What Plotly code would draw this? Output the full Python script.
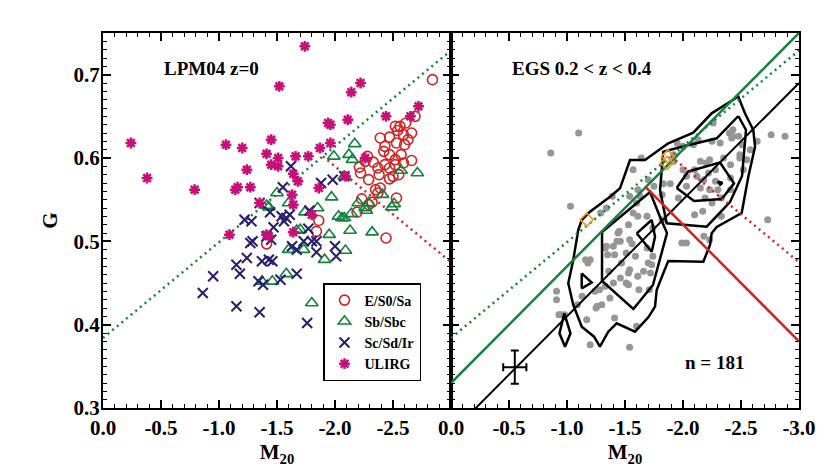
import plotly.graph_objects as go

FONT = "Liberation Serif"

# ---------------- Left panel (LPM04 z=0) ----------------
E_M20 = [-2.84, -2.69, -2.61, -2.52, -2.56, -2.54, -2.66, -2.59, -2.47, -2.39, -2.63, -2.53, -2.60, -2.43,
         -2.42, -2.47, -2.28, -2.26, -2.57, -2.52, -2.66, -2.59, -2.21, -2.33, -2.43, -2.52, -2.37, -2.47,
         -2.22, -2.38, -2.55, -2.29, -2.50, -2.47, -2.39, -2.35, -2.37, -2.23, -2.32, -2.29, -2.53, -2.19,
         -2.44, -1.86, -1.84, -1.41]
E_G = [0.694, 0.650, 0.642, 0.638, 0.638, 0.633, 0.630, 0.628, 0.625, 0.624, 0.622, 0.618, 0.616, 0.614,
       0.608, 0.604, 0.602, 0.596, 0.604, 0.598, 0.597, 0.594, 0.589, 0.595, 0.592, 0.592, 0.588, 0.588,
       0.582, 0.580, 0.580, 0.574, 0.578, 0.575, 0.564, 0.562, 0.558, 0.551, 0.547, 0.544, 0.552, 0.535,
       0.504, 0.525, 0.512, 0.497]

SB_M20 = [-2.17, -1.99, -2.12, -2.15, -2.08, -1.97, -2.71, -2.57, -2.41, -2.51, -2.49, -2.20, -2.27, -2.03,
          -2.06, -2.08, -2.14, -2.13, -2.32, -1.95, -2.09, -1.91, -1.74, -1.85, -1.67, -1.73, -1.50, -1.60,
          -1.41, -2.26, -2.29, -1.43, -1.37, -1.46, -1.58, -1.60, -1.70, -1.80]
SB_G = [0.617, 0.602, 0.604, 0.598, 0.578, 0.553, 0.582, 0.585, 0.556, 0.545, 0.541, 0.546, 0.537, 0.530,
        0.528, 0.528, 0.533, 0.513, 0.511, 0.508, 0.489, 0.478, 0.535, 0.540, 0.513, 0.490, 0.558, 0.546,
        0.543, 0.540, 0.546, 0.541, 0.452, 0.452, 0.461, 0.490, 0.514, 0.426]

SC_M20 = [-0.86, -0.95, -1.15, -1.18, -1.24, -1.15, -1.35, -1.29, -1.27, -1.22, -1.28, -1.35, -1.44, -1.41,
          -1.45, -1.47, -1.37, -1.43, -1.46, -1.34, -1.38, -1.53, -1.54, -1.58, -1.61, -1.56, -1.63, -1.67,
          -1.67, -1.73, -1.77, -1.80, -1.76, -1.78, -1.84, -1.84, -2.00, -2.01, -1.62, -1.55, -1.88, -1.98,
          -2.08]
SC_G = [0.438, 0.458, 0.472, 0.461, 0.480, 0.422, 0.415, 0.500, 0.498, 0.526, 0.524, 0.546, 0.535, 0.506,
        0.502, 0.517, 0.476, 0.478, 0.476, 0.452, 0.448, 0.454, 0.530, 0.528, 0.532, 0.524, 0.494, 0.490,
        0.461, 0.500, 0.515, 0.500, 0.402, 0.537, 0.500, 0.487, 0.494, 0.482, 0.590, 0.565, 0.570, 0.574,
        0.578]

UL_M20 = [-1.74, -1.52, -0.24, -0.38, -0.79, -1.06, -1.20, -1.24, -1.14, -1.16, -1.27, -1.41, -1.45, -1.51,
          -1.45, -1.51, -1.66, -1.77, -1.64, -1.68, -1.63, -1.86, -1.87, -1.94, -1.96, -1.96, -2.14, -2.22,
          -2.11, -2.44, -2.65, -2.72, -2.09, -2.26, -1.64, -1.35, -1.09, -1.64, -1.41, -1.80, -1.43]
UL_G = [0.734, 0.686, 0.618, 0.576, 0.562, 0.616, 0.612, 0.586, 0.562, 0.565, 0.565, 0.605, 0.622, 0.600,
        0.592, 0.590, 0.602, 0.602, 0.581, 0.572, 0.556, 0.564, 0.612, 0.642, 0.640, 0.618, 0.679, 0.690,
        0.646, 0.650, 0.650, 0.662, 0.578, 0.600, 0.544, 0.546, 0.508, 0.511, 0.508, 0.532, 0.506]

# ---------------- Right panel (EGS 0.2 < z < 0.4) ----------------
EGS_M20 = [-1.10, -0.86, -1.03, -2.76, -2.88, -2.73, -2.40, -2.43, -2.42, -2.48, -2.51, -2.58, -2.64, -2.25,
           -2.32, -2.23, -2.49, -2.49, -2.55, -2.35, -2.15, -2.20, -2.41, -2.28, -2.00, -2.09, -2.13, -1.92,
           -2.00, -2.03, -2.10, -2.12, -2.18, -2.22, -2.03, -2.15, -2.23, -2.28, -2.30, -2.41, -2.25, -2.33,
           -2.19, -2.10, -2.17, -1.96, -1.89, -1.83, -1.82, -1.75, -1.64, -1.57, -1.70, -1.95, -1.92, -1.39,
           -1.61, -1.63, -1.54, -1.34, -1.29, -1.57, -1.61, -1.69, -1.82, -1.74, -1.53, -1.45, -1.43, -1.34,
           -1.99, -2.03, -2.18, -2.23, -2.41, -2.52, -2.33, -1.44, -1.33, -1.40, -1.46, -1.35, -1.41, -1.54,
           -1.56, -1.69, -1.74, -1.70, -1.73, -1.51, -1.59, -1.47, -1.54, -1.53, -1.36, -1.46, -1.51, -1.53,
           -1.61, -1.66, -1.72, -1.62, -1.71, -1.40, -1.33, -1.37, -1.30, -1.25, -1.26, -1.41, -1.17, -1.24,
           -1.28, -1.16, -1.20, -1.18, -1.13, -1.09, -0.91, -0.91, -0.93, -0.95, -0.98, -1.60, -1.20, -1.54,
           -2.26, -2.43, -1.60]
EGS_G = [0.630, 0.606, 0.542, 0.628, 0.626, 0.526, 0.630, 0.626, 0.624, 0.626, 0.616, 0.610, 0.620, 0.620,
         0.618, 0.598, 0.604, 0.600, 0.598, 0.600, 0.596, 0.594, 0.592, 0.586, 0.614, 0.616, 0.622, 0.596,
         0.586, 0.578, 0.586, 0.578, 0.574, 0.582, 0.566, 0.564, 0.562, 0.572, 0.562, 0.576, 0.546, 0.552,
         0.552, 0.532, 0.536, 0.552, 0.569, 0.569, 0.556, 0.566, 0.600, 0.586, 0.574, 0.618, 0.604, 0.554,
         0.562, 0.554, 0.554, 0.540, 0.534, 0.534, 0.530, 0.530, 0.526, 0.516, 0.520, 0.512, 0.500, 0.494,
         0.498, 0.498, 0.506, 0.502, 0.562, 0.586, 0.530, 0.510, 0.492, 0.494, 0.500, 0.484, 0.484, 0.502,
         0.497, 0.492, 0.482, 0.474, 0.472, 0.486, 0.482, 0.474, 0.466, 0.462, 0.464, 0.456, 0.450, 0.448,
         0.458, 0.464, 0.462, 0.442, 0.442, 0.450, 0.446, 0.432, 0.424, 0.420, 0.422, 0.408, 0.406, 0.440,
         0.442, 0.478, 0.478, 0.474, 0.434, 0.424, 0.440, 0.430, 0.412, 0.412, 0.412, 0.398, 0.376, 0.373,
         0.642, 0.634, 0.546]

ORANGE_M20 = [-1.87, -1.86, -1.17]
ORANGE_G = [0.602, 0.594, 0.526]

# density contours (M20, G vertices)
CONTOURS = [
    ([-1.127, -1.198, -1.371, -1.457, -1.543, -1.672, -1.873, -2.089, -2.247, -2.477, -2.534, -2.606, -2.621,
      -2.563, -2.506, -2.291, -2.247, -2.233, -2.175, -1.873, -1.830, -1.773, -1.759, -1.701, -1.586, -1.428,
      -1.356, -1.284, -1.233, -1.127, -1.054, -1.011, -1.054, -1.097, -1.127],
     [0.5256, 0.5356, 0.5536, 0.5636, 0.5976, 0.5976, 0.6176, 0.6304, 0.6536, 0.6738, 0.6536, 0.6336, 0.6136,
      0.5776, 0.534, 0.5172, 0.5096, 0.4956, 0.4756, 0.4764, 0.4616, 0.4416, 0.4216, 0.4088, 0.3916, 0.4016,
      0.3916, 0.3736, 0.3856, 0.3976, 0.4236, 0.4496, 0.4776, 0.5136, 0.5256]),
    ([-2.477, -2.543, -2.509, -2.405, -2.204, -1.859, -1.802, -1.830, -1.989, -2.175, -2.291, -2.477],
     [0.6504, 0.6336, 0.5784, 0.5472, 0.5176, 0.5216, 0.5616, 0.6076, 0.6136, 0.6196, 0.6236, 0.6504]),
    ([-1.302, -1.302, -1.572, -1.741, -1.862, -1.802, -1.716, -1.302],
     [0.5112, 0.4524, 0.4188, 0.4476, 0.5100, 0.5292, 0.5592, 0.5112]),
    ([-1.946, -2.043, -2.319, -2.440, -2.334, -2.095, -1.946],
     [0.564, 0.5838, 0.5946, 0.5696, 0.5508, 0.5484, 0.564]),
    ([-1.601, -1.730, -1.759, -1.730, -1.601],
     [0.5096, 0.5256, 0.5056, 0.4876, 0.5096]),
    ([-1.127, -1.213, -1.127, -1.127],
     [0.4616, 0.4506, 0.4436, 0.4616]),
    ([-0.977, -1.030, -0.983, -0.935, -0.977],
     [0.4136, 0.3896, 0.3736, 0.3896, 0.4136]),
    ([-2.30, -2.34, -2.32, -2.30],
     [0.5720, 0.5700, 0.5680, 0.5720]),
]

ERR_M20 = [-0.55]
ERR_G = [0.349]
ERR_DM20 = [0.10]
ERR_DG = [0.02]

# classification lines (slope, intercept): G = a*M20 + b
LPM04_LINE = (-0.115, 0.384)
LPM04_ES0 = (0.115, 0.82)
L08_MERGER = (-0.14, 0.33)
L08_ES0 = (0.14, 0.80)
EGS_FIT = (-0.14, 0.27)

XT_LEFT = [0.0, -0.5, -1.0, -1.5, -2.0, -2.5]
XT_LEFT_TXT = ["0.0", "-0.5", "-1.0", "-1.5", "-2.0", "-2.5"]
XT_RIGHT = [0.0, -0.5, -1.0, -1.5, -2.0, -2.5, -3.0]
XT_RIGHT_TXT = ["0.0", "-0.5", "-1.0", "-1.5", "-2.0", "-2.5", "-3.0"]
YT = [0.3, 0.4, 0.5, 0.6, 0.7]
YT_TXT = ["0.3", "0.4", "0.5", "0.6", "0.7"]

RED = "rgb(210,35,35)"
GREEN = "rgb(20,130,60)"
NAVY = "rgb(40,30,110)"
MAGENTA = "rgb(200,15,120)"
GRAY = "rgb(150,150,150)"
ORANGE = "rgb(240,150,30)"


def line_pts(coef, m_from, m_to):
    a, b = coef
    return [m_from, m_to], [a * m_from + b, a * m_to + b]


def crossing(c1, c2):
    return (c2[1] - c1[1]) / (c1[0] - c2[0])


fig = go.Figure()

# ---- left panel lines
x, y = line_pts(LPM04_LINE, 0.0, -3.0)
fig.add_trace(go.Scatter(x=x, y=y, mode="lines", line=dict(color=GREEN, width=2.5, dash="2px,4px"),
                         showlegend=False, xaxis="x", yaxis="y"))
x, y = line_pts(LPM04_ES0, crossing(LPM04_LINE, LPM04_ES0), -3.0)
fig.add_trace(go.Scatter(x=x, y=y, mode="lines", line=dict(color=RED, width=2.5, dash="2px,4px"),
                         showlegend=False, xaxis="x", yaxis="y"))

# ---- left panel points
fig.add_trace(go.Scatter(x=E_M20, y=E_G, mode="markers", name="E/S0/Sa",
                         marker=dict(symbol="circle-open", size=10, color=RED, line=dict(width=1.6)),
                         xaxis="x", yaxis="y"))
fig.add_trace(go.Scatter(x=SB_M20, y=SB_G, mode="markers", name="Sb/Sbc",
                         marker=dict(symbol="triangle-up-open", size=11, color=GREEN, line=dict(width=1.6)),
                         xaxis="x", yaxis="y"))
fig.add_trace(go.Scatter(x=SC_M20, y=SC_G, mode="markers", name="Sc/Sd/Ir",
                         marker=dict(symbol="x-thin-open", size=10, color=NAVY, line=dict(width=2)),
                         xaxis="x", yaxis="y"))
fig.add_trace(go.Scatter(x=UL_M20, y=UL_G, mode="markers", name="ULIRG",
                         marker=dict(symbol="asterisk-open", size=9, color=MAGENTA, line=dict(width=2.5)),
                         xaxis="x", yaxis="y"))

# ---- right panel
fig.add_trace(go.Scatter(x=EGS_M20, y=EGS_G, mode="markers",
                         marker=dict(symbol="circle", size=7, color=GRAY),
                         showlegend=False, xaxis="x2", yaxis="y2"))
for cx, cy in CONTOURS:
    fig.add_trace(go.Scatter(x=cx, y=cy, mode="lines", line=dict(color="black", width=2.5),
                             showlegend=False, xaxis="x2", yaxis="y2"))
x, y = line_pts(EGS_FIT, 0.0, -3.0)
fig.add_trace(go.Scatter(x=x, y=y, mode="lines", line=dict(color="black", width=2),
                         showlegend=False, xaxis="x2", yaxis="y2"))
x, y = line_pts(LPM04_LINE, 0.0, -3.0)
fig.add_trace(go.Scatter(x=x, y=y, mode="lines", line=dict(color=GREEN, width=2.5, dash="2px,4px"),
                         showlegend=False, xaxis="x2", yaxis="y2"))
x, y = line_pts(LPM04_ES0, crossing(LPM04_LINE, LPM04_ES0), -3.0)
fig.add_trace(go.Scatter(x=x, y=y, mode="lines", line=dict(color=RED, width=2.5, dash="2px,4px"),
                         showlegend=False, xaxis="x2", yaxis="y2"))
x, y = line_pts(L08_MERGER, 0.0, -3.0)
fig.add_trace(go.Scatter(x=x, y=y, mode="lines", line=dict(color=GREEN, width=2.5),
                         showlegend=False, xaxis="x2", yaxis="y2"))
x, y = line_pts(L08_ES0, crossing(L08_MERGER, L08_ES0), -3.0)
fig.add_trace(go.Scatter(x=x, y=y, mode="lines", line=dict(color=RED, width=2.5),
                         showlegend=False, xaxis="x2", yaxis="y2"))
fig.add_trace(go.Scatter(x=ORANGE_M20, y=ORANGE_G, mode="markers",
                         marker=dict(symbol="diamond-open", size=10, color=ORANGE, line=dict(width=1.6)),
                         showlegend=False, xaxis="x2", yaxis="y2"))
fig.add_trace(go.Scatter(x=ERR_M20, y=ERR_G, mode="markers", marker=dict(size=1, color="black"),
                         error_x=dict(type="data", array=ERR_DM20, color="black", thickness=2, width=4),
                         error_y=dict(type="data", array=ERR_DG, color="black", thickness=2, width=4),
                         showlegend=False, xaxis="x2", yaxis="y2"))

tickfont = dict(family=FONT, size=21, color="black", weight="bold")
common = dict(showline=True, linecolor="black", linewidth=2, mirror="allticks", ticks="inside",
              ticklen=8, tickwidth=1.5, tickcolor="black", showgrid=False, zeroline=False,
              tickfont=tickfont, automargin=False)
xminor = dict(dtick=0.1, tick0=0, ticks="inside", ticklen=4, tickcolor="black", tickwidth=1)
yminor = dict(dtick=0.01, tick0=0.3, ticks="inside", ticklen=4, tickcolor="black", tickwidth=1)
xtitle = dict(text="M<sub>20</sub>", font=dict(family=FONT, size=21, color="black", weight="bold"),
              standoff=0)

# plot frame: x 103..799, y 33..408 in the 830x475 window (page has an 8px body margin)
fig.update_layout(
    width=830, height=475,
    margin=dict(l=95, r=39, t=25, b=75),
    paper_bgcolor="white", plot_bgcolor="white",
    font=dict(family=FONT, color="black", weight="bold"),
    xaxis=dict(domain=[0, 0.5], range=[0, -3], tickvals=XT_LEFT, ticktext=XT_LEFT_TXT, minor=xminor,
               anchor="y", title=xtitle, **common),
    yaxis=dict(domain=[0, 1], range=[0.3, 0.75], tickvals=YT, ticktext=YT_TXT, minor=yminor, anchor="x",
               ticklabelstandoff=-3,
               title=dict(text="G", font=dict(family=FONT, size=21, color="black", weight="bold"),
                          standoff=10),
               **common),
    xaxis2=dict(domain=[0.5, 1], range=[0, -3], tickvals=XT_RIGHT, ticktext=XT_RIGHT_TXT, minor=xminor,
                anchor="y2", title=xtitle, **common),
    yaxis2=dict(domain=[0, 1], range=[0.3, 0.75], tickvals=YT, ticktext=YT_TXT, minor=yminor,
                anchor="x2", showticklabels=False, **common),
    legend=dict(x=(323 - 103) / 696, y=(408 - 283) / 375, xanchor="left", yanchor="top",
                bordercolor="black", borderwidth=1.5, bgcolor="white",
                font=dict(family=FONT, size=14, color="black", weight="bold"),
                itemwidth=30, tracegroupgap=0),
    annotations=[
        dict(text="<b>LPM04 z=0</b>", x=-0.51, y=0.708, xref="x", yref="y", xanchor="left",
             yanchor="middle", showarrow=False, font=dict(family=FONT, size=19, color="black")),
        dict(text="<b>EGS 0.2 &lt; z &lt; 0.4</b>", x=-0.51, y=0.708, xref="x2", yref="y2",
             xanchor="left", yanchor="middle", showarrow=False,
             font=dict(family=FONT, size=19, color="black")),
        dict(text="<b>n = 181</b>", x=-2.0, y=0.355, xref="x2", yref="y2", xanchor="left",
             yanchor="middle", showarrow=False, font=dict(family=FONT, size=19, color="black")),
    ],
)

fig.write_html("out.html")
